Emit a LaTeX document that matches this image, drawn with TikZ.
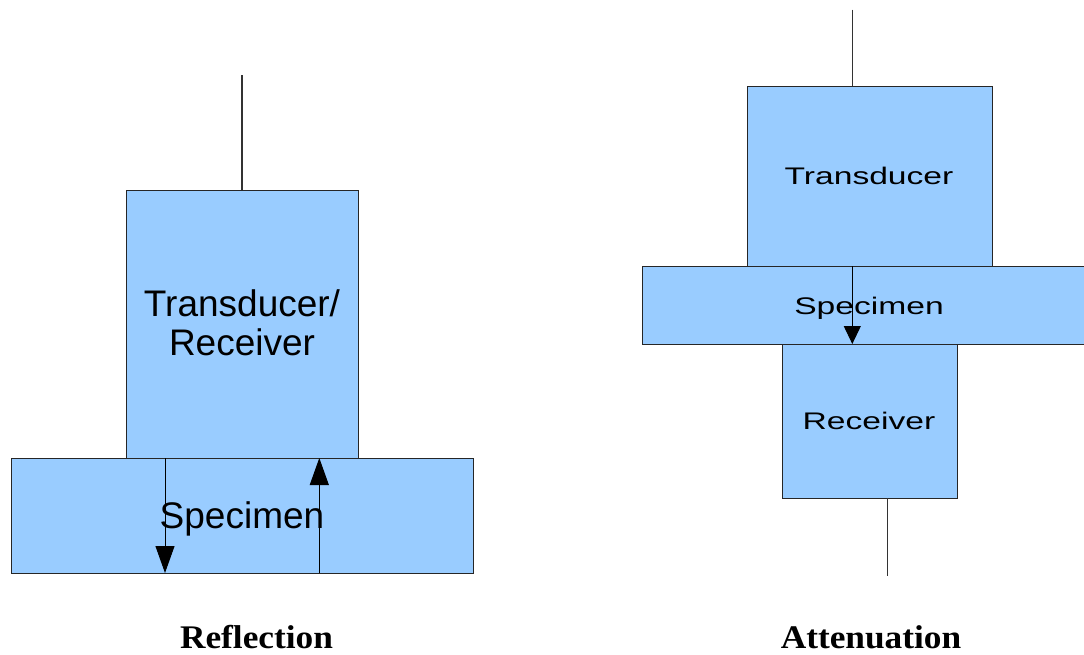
\documentclass[tikz,border=0pt]{standalone}
\usepackage{fontspec}
\setmainfont{Liberation Serif}
\newfontfamily\arialf{Liberation Sans}
\usetikzlibrary{arrows.meta}
\definecolor{boxblue}{HTML}{99CCFF}
\tikzset{
  blk/.style={draw=black!85, line width=1pt, fill=boxblue, inner sep=0pt, outer sep=0pt},
  wire/.style={draw=black!80, line width=1.1pt},
  bigarrow/.style={draw=black, line width=1pt, -{Triangle[length=27pt,width=19pt]}},
  smallarrow/.style={draw=black, line width=1pt, -{Triangle[length=18pt,width=17pt]}},
  bigtxt/.style={font=\arialf\fontsize{37}{39}\selectfont, inner sep=0pt, anchor=base, align=center},
  smalltxt/.style={font=\arialf\fontsize{24}{28}\selectfont, inner sep=0pt, anchor=base, xscale=1.4},
  caption/.style={font=\bfseries\fontsize{33}{36}\selectfont, inner sep=0pt, anchor=base, xscale=1.07}
}
\begin{document}
\begin{tikzpicture}[x=1pt,y=-1pt]
\useasboundingbox (0,0) rectangle (1084,654);
% ---------- Reflection ----------
\node[blk, minimum width=232pt, minimum height=268pt] (ltrans) at (242,324) {};
\node[blk, minimum width=462pt, minimum height=115pt] (lspec) at (242,515.5) {};
\coordinate (ltop) at (242,75);
\draw[wire] (ltop) -- (ltrans.north);
\node[bigtxt] (lttxt) at (242,316) {Transducer/};
\node[bigtxt] (lrtxt) at (242,355) {Receiver};
\node[bigtxt] (lstxt) at (242,528.5) {Specimen};
\coordinate (ldownx) at (165,0);
\coordinate (lupx) at (319.3,0);
\draw[bigarrow] (lspec.north -| ldownx) -- (lspec.south -| ldownx);
\draw[bigarrow] (lspec.south -| lupx) -- (lspec.north -| lupx);
\node[caption] (refl) at (256.5,648) {Reflection};
% ---------- Attenuation ----------
\node[blk, minimum width=245pt, minimum height=180pt] (rtrans) at (870,176) {};
\node[blk, minimum width=444pt, minimum height=78pt] (rspec) at (864.5,305) {};
\node[blk, minimum width=175pt, minimum height=154pt] (rrec) at (870,421) {};
\coordinate (rtop) at (852.5,9.5);
\draw[wire] (rtop) -- (rtop |- rtrans.north);
\coordinate (rbot) at (887.3,575.7);
\draw[wire] (rrec.south -| rbot) -- (rbot);
\node[smalltxt] (rttxt) at (869,184.3) {Transducer};
\node[smalltxt] (rstxt) at (869,314) {Specimen};
\node[smalltxt] (rrtxt) at (869,429.3) {Receiver};
\coordinate (rarrx) at (852.3,0);
\draw[smallarrow] (rspec.north -| rarrx) -- (rspec.south -| rarrx);
\node[caption] (atten) at (871,648) {Attenuation};
\end{tikzpicture}
\end{document}
